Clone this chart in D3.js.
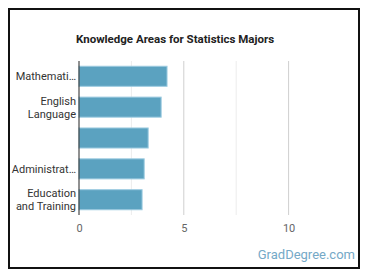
<!DOCTYPE html>
<html>
<head>
<meta charset="utf-8">
<script src="https://cdn.jsdelivr.net/npm/d3@7"></script>
<style>
  body { margin: 0; background: #fff; }
  svg { display: block; font-family: Roboto, "Noto Sans", sans-serif; }
</style>
</head>
<body>
<div id="chart"></div>
<script>
// data
const categories = ["Mathematics", "English Language", "Computers and Electronics", "Administration and Management", "Education and Training"];
const labels = [["Mathemati…"], ["English", "Language"], [""], ["Administrat…"], ["Education", "and Training"]];
const values = [4.2, 3.92, 3.3, 3.11, 3.01];
const xTicks = [0, 5, 10];
const gridTicks = [2.5, 5, 7.5, 10];

const W = 370, H = 278;
const margin = {top: 61, right: 29, bottom: 63, left: 79};
const width = W - margin.left - margin.right;
const height = H - margin.top - margin.bottom;

const svg = d3.select("#chart").append("svg")
  .attr("width", W)
  .attr("height", H);

// frame
svg.append("rect")
  .attr("x", 9).attr("y", 9)
  .attr("width", 350).attr("height", 259)
  .attr("fill", "#fff")
  .attr("stroke", "#111")
  .attr("stroke-width", 2);

svg.append("text")
  .attr("x", 175).attr("y", 43)
  .attr("text-anchor", "middle")
  .attr("font-size", 11.5)
  .attr("font-weight", "bold")
  .attr("fill", "#222")
  .text("Knowledge Areas for Statistics Majors");

const g = svg.append("g")
  .attr("transform", "translate(" + margin.left + "," + margin.top + ")");

const x = d3.scaleLinear().domain([0, 12.5]).range([0, width]);
const y = d3.scaleBand()
  .domain(categories)
  .range([0, height])
  .paddingInner(0.35)
  .paddingOuter(0.17);

// gridlines
g.selectAll(".grid")
  .data(gridTicks)
  .join("line")
    .attr("class", "grid")
    .attr("x1", d => x(d)).attr("x2", d => x(d))
    .attr("y1", 0).attr("y2", height)
    .attr("stroke", d => d % 5 === 0 ? "#cfcfcf" : "#ececec")
    .attr("stroke-width", 1);

// bars
g.selectAll(".bar")
  .data(values)
  .join("rect")
    .attr("class", "bar")
    .attr("x", x(0))
    .attr("y", (d, i) => y(categories[i]))
    .attr("width", d => x(d) - x(0))
    .attr("height", y.bandwidth())
    .attr("fill", "#5ba2c0")
    .attr("stroke", "#9ccbe0")
    .attr("stroke-width", 1);

// y axis line
g.append("line")
  .attr("x1", 0).attr("x2", 0)
  .attr("y1", 0).attr("y2", height)
  .attr("stroke", "#222")
  .attr("stroke-width", 1);

// category labels
const lab = g.selectAll(".ylab")
  .data(labels)
  .join("text")
    .attr("class", "ylab")
    .attr("text-anchor", "end")
    .attr("font-size", 11)
    .attr("fill", "#333")
    .attr("transform", (d, i) => "translate(-3," + (y(categories[i]) + y.bandwidth() / 2) + ")");

lab.selectAll("tspan")
  .data(d => d.map(t => ({t: t, n: d.length})))
  .join("tspan")
    .attr("x", 0)
    .attr("y", (d, j) => (j - (d.n - 1) / 2) * 13 + 4)
    .text(d => d.t);

// x axis
const xAxis = d3.axisBottom(x).tickValues(xTicks).tickSize(0).tickPadding(9);
const xAxisG = g.append("g")
  .attr("transform", "translate(0," + height + ")")
  .call(xAxis);
xAxisG.select(".domain").remove();
xAxisG.selectAll("text")
  .attr("font-size", 11)
  .attr("fill", "#666")
  .attr("font-family", "Roboto, sans-serif");

// watermark
svg.append("text")
  .attr("x", 355).attr("y", 259)
  .attr("text-anchor", "end")
  .attr("font-size", 13)
  .attr("fill", "#75a9c7")
  .text("GradDegree.com");
</script>
</body>
</html>
